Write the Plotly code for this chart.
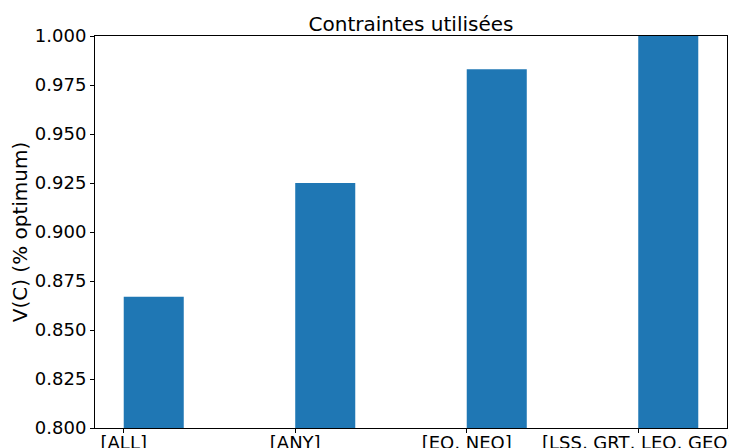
import plotly.graph_objects as go

categories = ["[ALL]", "[ANY]", "[EQ, NEQ]", "[LSS, GRT, LEQ, GEQ]"]
values = [0.867, 0.925, 0.983, 1.000]
positions = [0, 1, 2, 3]
y_ticks = [0.800, 0.825, 0.850, 0.875, 0.900, 0.925, 0.950, 0.975, 1.000]

BAR_W = 0.35
font = dict(family="DejaVu Sans", size=18, color="black")

# page body adds an 8px offset; compensate in margins
W, H = 737, 448
fig = go.Figure(go.Bar(
    x=positions, y=values, width=BAR_W, offset=0,
    marker=dict(color="#1f77b4", line=dict(width=0)),
))

fig.update_layout(
    width=W, height=H,
    margin=dict(l=87, r=18, t=28, b=28, autoexpand=False),
    paper_bgcolor="white", plot_bgcolor="white",
    font=font,
    showlegend=False,
    title=dict(text="Contraintes utilisées", x=(87 + 719) / 2 / W, xanchor="center",
               y=1 - 16 / H, yanchor="middle",
               font=dict(family="DejaVu Sans", size=20, color="black")),
)
fig.update_xaxes(
    range=[-0.1675, 3.5175], tickmode="array", tickvals=positions, ticktext=categories,
    showgrid=False, zeroline=False, showline=True, linecolor="black", linewidth=1,
    mirror=True, ticks="outside", ticklen=4, tickcolor="black", tickfont=font,
    ticklabelstandoff=-6,
    automargin=False,
)
fig.update_yaxes(
    range=[0.8, 1.0], tickmode="array", tickvals=y_ticks,
    ticktext=[f"{v:.3f}" for v in y_ticks],
    showgrid=False, zeroline=False, showline=True, linecolor="black", linewidth=1,
    mirror=True, ticks="outside", ticklen=4, tickcolor="black", tickfont=font,
    title=dict(text="V(C) (% optimum)", font=dict(family="DejaVu Sans", size=20, color="black"), standoff=5),
    automargin=False,
)

fig.write_html("out.html")
